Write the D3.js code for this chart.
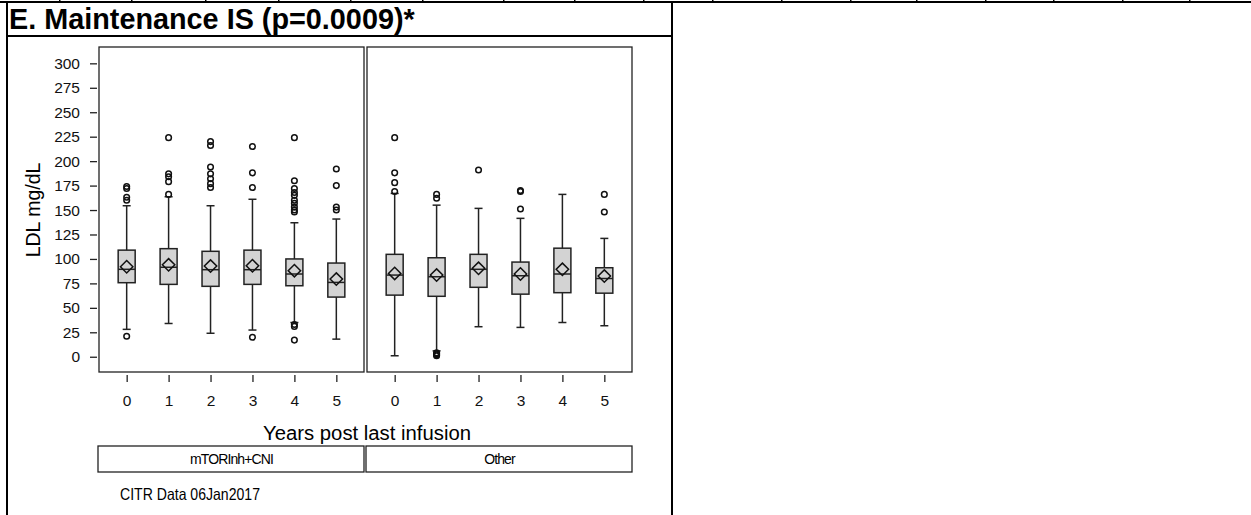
<!DOCTYPE html>
<html>
<head>
<meta charset="utf-8">
<script src="https://cdn.jsdelivr.net/npm/d3@7"></script>
<style>
  body { margin: 0; background: #fff; }
  svg { display: block; font-family: "Liberation Sans", Arial, sans-serif; }
  .axis path { display: none; }
  .axis line { stroke: #222; stroke-width: 1.3; }
  .axis text { font-family: "Liberation Sans", Arial, sans-serif; font-size: 15.5px; fill: #111; }
</style>
</head>
<body>
<svg id="chart" width="1251" height="515"></svg>
<script>
// categories
const years = ["0", "1", "2", "3", "4", "5"];
const groups = ["mTORInh+CNI", "Other"];
const yTicks = [0, 25, 50, 75, 100, 125, 150, 175, 200, 225, 250, 275, 300];

// mTORInh+CNI boxes (LDL mg/dL by year)
const q1Mtor = [75.7, 74, 72, 74, 72.6, 61];
const medMtor = [89.4, 91.5, 89, 89, 84.6, 76];
const q3Mtor = [109, 110.5, 107.8, 109, 100, 95.8];
const meanMtor = [92, 94, 92.7, 93, 88, 79.4];
const loMtor = [28, 34, 24, 27.3, 35, 18];
const hiMtor = [154.4, 163.6, 154.4, 161, 137, 140.8];
const outMtor = [
  [21, 174, 172, 163, 160],
  [224, 187, 184, 179, 166],
  [220, 216, 194, 187, 182, 177, 173],
  [20, 215, 188, 173],
  [33, 31, 17, 224, 180, 172, 168, 165, 160, 157, 153, 150, 148],
  [192, 175, 153, 150]
];

// Other boxes
const q1Other = [63, 61.8, 71, 64, 65.5, 65];
const medOther = [83.5, 81.8, 89.4, 82.8, 84.6, 80];
const q3Other = [104.7, 101.2, 104.7, 96.8, 111, 91];
const meanOther = [85.2, 83.5, 90.4, 84.6, 89.4, 82.5];
const loOther = [1, 6, 30.7, 30, 35, 31.7];
const hiOther = [167, 155, 151.7, 141.5, 166, 121];
const outOther = [
  [224, 188, 178, 169],
  [166, 162, 4, 3, 2, 1],
  [191],
  [170, 169, 151],
  [],
  [166, 148]
];

// layout decorations of the page table above
const topMarks = [59, 131, 205, 278, 350, 422, 503, 574, 643, 712, 781, 850, 916, 985, 1053, 1122, 1189];

const svg = d3.select("#chart");

// page frame lines
svg.append("rect").attr("x", 0).attr("y", 1).attr("width", 1251).attr("height", 2).attr("fill", "#000");
svg.selectAll(".topmark").data(topMarks).enter().append("rect")
    .attr("x", d => d).attr("y", 0).attr("width", 1.5).attr("height", 2).attr("fill", "#000");
svg.append("line").attr("x1", 7).attr("x2", 7).attr("y1", 1).attr("y2", 515)
    .attr("stroke", "#000").attr("stroke-width", 2);
svg.append("line").attr("x1", 672).attr("x2", 672).attr("y1", 1).attr("y2", 515)
    .attr("stroke", "#000").attr("stroke-width", 2);
svg.append("line").attr("x1", 7).attr("x2", 672).attr("y1", 36).attr("y2", 36)
    .attr("stroke", "#000").attr("stroke-width", 2);

svg.append("text")
    .attr("x", 9).attr("y", 28.5)
    .attr("font-size", 28.8).attr("font-weight", "bold")
    .text("E. Maintenance IS (p=0.0009)*");

// scales
const y = d3.scaleLinear().domain([-15.6, 316.7]).range([372, 47]);
const panels = [
  {name: groups[0], x0: 99, x1: 364, q1: q1Mtor, med: medMtor, q3: q3Mtor, mean: meanMtor, lo: loMtor, hi: hiMtor, out: outMtor},
  {name: groups[1], x0: 367, x1: 632, q1: q1Other, med: medOther, q3: q3Other, mean: meanOther, lo: loOther, hi: hiOther, out: outOther}
];

const boxW = 17, capW = 8, dia = 6.2;

panels.forEach(p => {
    let x = d3.scalePoint().domain(years).range([p.x0, p.x1]).padding(0.66);

    svg.append("rect")
        .attr("x", p.x0).attr("y", 47)
        .attr("width", p.x1 - p.x0).attr("height", 325)
        .attr("fill", "none").attr("stroke", "#222").attr("stroke-width", 1.3);

    svg.append("g")
        .attr("class", "axis")
        .attr("transform", "translate(0,375)")
        .call(d3.axisBottom(x).tickSize(7).tickPadding(13));

    let g = svg.append("g");
    years.forEach((yr, i) => {
        let cx = x(yr);
        // whiskers
        g.append("line").attr("x1", cx).attr("x2", cx)
            .attr("y1", y(p.lo[i])).attr("y2", y(p.hi[i]))
            .attr("stroke", "#222").attr("stroke-width", 1.5);
        [p.lo[i], p.hi[i]].forEach(v => {
            g.append("line").attr("x1", cx - capW / 2).attr("x2", cx + capW / 2)
                .attr("y1", y(v)).attr("y2", y(v))
                .attr("stroke", "#222").attr("stroke-width", 1.5);
        });
        // box
        g.append("rect")
            .attr("x", cx - boxW / 2).attr("y", y(p.q3[i]))
            .attr("width", boxW).attr("height", y(p.q1[i]) - y(p.q3[i]))
            .attr("fill", "#d3d3d3").attr("stroke", "#222").attr("stroke-width", 1.5);
        g.append("line").attr("x1", cx - boxW / 2).attr("x2", cx + boxW / 2)
            .attr("y1", y(p.med[i])).attr("y2", y(p.med[i]))
            .attr("stroke", "#222").attr("stroke-width", 1.5);
        // mean diamond
        let my = y(p.mean[i]);
        g.append("path")
            .attr("d", `M${cx},${my - dia}L${cx + dia},${my}L${cx},${my + dia}L${cx - dia},${my}Z`)
            .attr("fill", "none").attr("stroke", "#111").attr("stroke-width", 1.5);
        // outliers
        g.selectAll(null).data(p.out[i]).enter().append("circle")
            .attr("cx", cx).attr("cy", d => y(d)).attr("r", 2.8)
            .attr("fill", "none").attr("stroke", "#111").attr("stroke-width", 1.5);
    });

    // group strip
    svg.append("rect")
        .attr("x", p.x0 - 1).attr("y", 446)
        .attr("width", p.x1 - p.x0 + 1).attr("height", 26)
        .attr("fill", "none").attr("stroke", "#222").attr("stroke-width", 1.3);
    svg.append("text")
        .attr("x", (p.x0 + p.x1) / 2).attr("y", 464)
        .attr("text-anchor", "middle").attr("font-size", 14)
        .attr("letter-spacing", -0.9)
        .text(p.name);
});

svg.append("g")
    .attr("class", "axis")
    .attr("transform", "translate(97,0)")
    .call(d3.axisLeft(y).tickValues(yTicks).tickSize(7).tickPadding(10));

svg.append("text")
    .attr("transform", "translate(40,210) rotate(-90)")
    .attr("text-anchor", "middle").attr("font-size", 19.5)
    .text("LDL mg/dL");

svg.append("text")
    .attr("x", 263).attr("y", 440)
    .attr("font-size", 20)
    .attr("textLength", 208).attr("lengthAdjust", "spacingAndGlyphs")
    .text("Years post last infusion");

svg.append("text")
    .attr("x", 120).attr("y", 500)
    .attr("font-size", 16.5)
    .attr("textLength", 140).attr("lengthAdjust", "spacingAndGlyphs")
    .text("CITR  Data 06Jan2017");
</script>
</body>
</html>
